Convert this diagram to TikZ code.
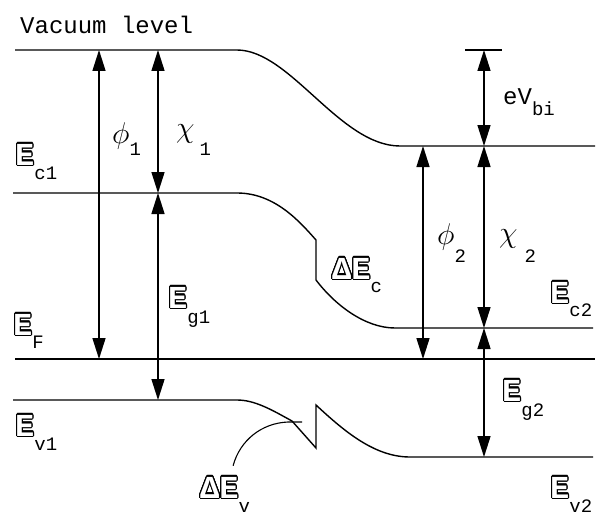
\RequirePackage{fix-cm}
\documentclass[tikz,border=0pt]{standalone}
\usepackage{fontspec}
\setmainfont{Liberation Mono}
\usepackage{xcolor}
\usepackage{contour}
\usepackage{tikz}
\usetikzlibrary{arrows.meta}
\contourlength{1.1pt}
\newcommand{\hol}[1]{{\fontsize{32}{34}\selectfont\bfseries\color{white}\contour{black}{#1}}}
\newcommand{\lowr}[2][14pt]{\raisebox{-#1}{\fontsize{19}{20}\selectfont #2}}
\newcommand{\gr}[1]{{\fontsize{30}{32}\selectfont$#1$}}

\begin{document}
\begin{tikzpicture}[x=1pt,y=-1pt,>={Triangle[width=13pt,length=21pt]},
  band/.style={line width=1.4pt},
  dimarr/.style={line width=1.5pt,<->},
  lbl/.style={inner sep=0pt,anchor=base west}]
\useasboundingbox (0,0) rectangle (607,516);
% vacuum level, conduction band, Fermi level, valence band
\draw[band] (15,50)--(237,50) .. controls (290,50) and (340,146) .. (400,146)--(595,146);
\draw[band] (13,193)--(237,193) .. controls (275,193) and (300,222) .. (316,240)--(316,280) .. controls (335,305) and (365,328) .. (395,328)--(593,328);
\draw[band] (15,359)--(595,359);
\draw[band] (13,400)--(237,400) .. controls (255,400) and (272,410) .. (292,421)--(316,448)--(316,405) .. controls (345,432) and (375,457) .. (410,457)--(593,457);
\draw[band] (465,50)--(502,50);
% energy differences
\foreach \n/\x/\a/\b in {phi1/99/50/359,chi1/158/50/193,eg1/158/193/400,phi2/423/146/359,vbi/484/50/146,chi2/484/146/328,eg2/484/328/457}{
  \coordinate (\n-t) at (\x,\a);
  \coordinate (\n-b) at (\x,\b);
  \draw[dimarr] (\n-t)--(\n-b);
}
% labels
\node[lbl,font=\fontsize{24}{26}\selectfont] (vac) at (20,34) {Vacuum level};
\node[lbl] (l-ec1) at (15,165) {\hol{E}\lowr{c1}};
\node[lbl] (l-ef) at (13,335) {\hol{E}\lowr[13pt]{F}};
\node[lbl] (l-ev1) at (15,436) {\hol{E}\lowr{v1}};
\node[lbl] (l-eg1) at (168,308) {\hol{E}\lowr[15pt]{g1}};
\node[lbl] (l-phi1) at (112,143) {\gr{\phi}\lowr[12pt]{1}};
\node[lbl] (l-chi1) at (176,137) {\gr{\chi}\hspace{5pt}\lowr[18pt]{1}};
\node[lbl] (l-dec) at (332,279) {\hol{Δ}\hol{E}\lowr[13pt]{c}};
\node[lbl] (l-phi2) at (437,244) {\gr{\phi}\lowr[18pt]{2}};
\node[lbl] (l-chi2) at (499,242) {\gr{\chi}\hspace{7pt}\lowr[20pt]{2}};
\node[lbl,font=\fontsize{24}{26}\selectfont] (l-vbi) at (503,105) {eV\lowr[10pt]{bi}};
\node[lbl] (l-ec2) at (550,303) {\hol{E}\lowr[13pt]{c2}};
\node[lbl] (l-eg2) at (502,401) {\hol{E}\lowr[15pt]{g2}};
\node[lbl] (l-ev2) at (550,498) {\hol{E}\lowr{v2}};
\node[lbl] (l-dev) at (200,498) {\hol{Δ}\hol{E}\lowr{v}};
% pointer to the valence band step
\coordinate (vstep) at (302,422);
\draw[line width=1.1pt] (l-dev.north) ++(8,-11) .. controls (240,440) and (262,423) .. (288,422)--(vstep);
\end{tikzpicture}
\end{document}
